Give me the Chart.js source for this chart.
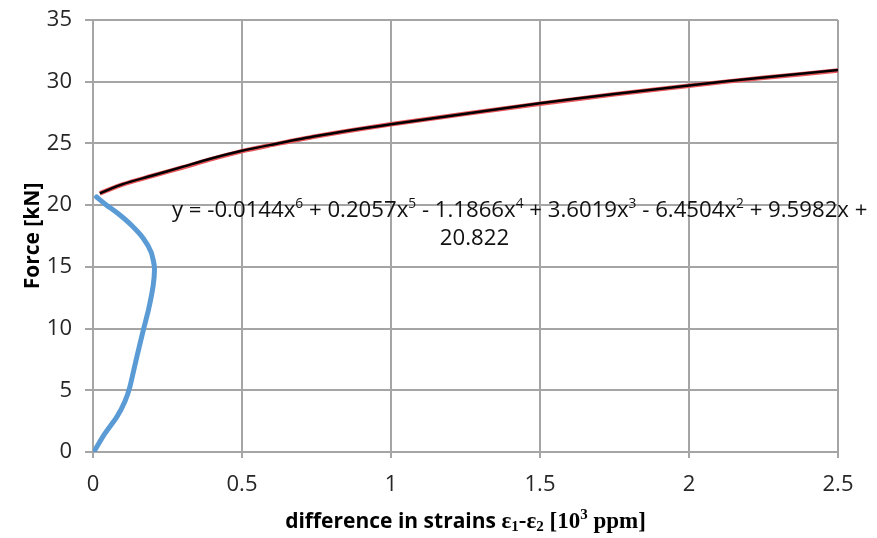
<!DOCTYPE html>
<html>
<head>
<meta charset="utf-8">
<script src="https://cdn.jsdelivr.net/npm/chart.js@4.4.0/dist/chart.umd.min.js"></script>
<style>
  body { margin: 0; background: #fff; }
  canvas { display: block; }
</style>
</head>
<body>
<canvas id="strainChart" width="877" height="538"></canvas>
<script>
// Données
const blueX = [0.005, 0.040, 0.080, 0.107, 0.124, 0.147, 0.169, 0.186, 0.202, 0.206, 0.195, 0.169, 0.130, 0.085, 0.040, 0.012];
const blueY = [0.1, 1.5, 2.85, 4.1, 5.3, 7.7, 9.9, 11.5, 13.5, 15.0, 16.2, 17.3, 18.35, 19.3, 20.1, 20.66];

const blackX = [0.023, 0.1, 0.2, 0.3, 0.4, 0.5, 0.6, 0.75, 1.0, 1.25, 1.5, 1.75, 2.0, 2.25, 2.5];
const blackY = [20.96, 21.7, 22.4, 23.1, 23.8, 24.4, 24.9, 25.6, 26.55, 27.4, 28.25, 29.0, 29.7, 30.35, 30.95];

const trendX = [0.023, 0.1, 0.2, 0.3, 0.4, 0.5, 0.6, 0.75, 1.0, 1.25, 1.5, 1.75, 2.0, 2.25, 2.5];
const trendY = [20.96, 21.68, 22.38, 23.05, 23.75, 24.38, 24.88, 25.58, 26.55, 27.4, 28.22, 28.98, 29.68, 30.32, 30.9];

const xTicks = [0, 0.5, 1, 1.5, 2, 2.5];
const yTicks = [0, 5, 10, 15, 20, 25, 30, 35];

const eqLine1 = [['y = -0.0144x', ''], ['6', 'sup'], [' + 0.2057x', ''], ['5', 'sup'], [' - 1.1866x', ''], ['4', 'sup'],
                 [' + 3.6019x', ''], ['3', 'sup'], [' - 6.4504x', ''], ['2', 'sup'], [' + 9.5982x +', '']];
const eqLine2 = '20.822';

function pts(xs, ys) {
  return xs.map((x, i) => ({ x: x, y: ys[i] }));
}

// Texte de l'équation de la courbe de tendance
const equationPlugin = {
  id: 'equation',
  afterDatasetsDraw(chart) {
    const ctx = chart.ctx;
    const sx = chart.scales.x, sy = chart.scales.y;
    const base = 22.2;
    ctx.save();
    ctx.fillStyle = '#111';
    ctx.textBaseline = 'middle';
    ctx.textAlign = 'left';
    let x = sx.getPixelForValue(0.265);
    const y1 = sy.getPixelForValue(19.55);
    eqLine1.forEach(([t, kind]) => {
      if (kind === 'sup') {
        ctx.font = (base * 0.62) + 'px "Open Sans"';
        ctx.fillText(t, x, y1 - base * 0.3);
      } else {
        ctx.font = base + 'px "Open Sans"';
        ctx.fillText(t, x, y1);
      }
      x += ctx.measureText(t).width;
    });
    ctx.font = base + 'px "Open Sans"';
    ctx.textAlign = 'center';
    ctx.fillText(eqLine2, sx.getPixelForValue(1.28), sy.getPixelForValue(17.3));
    ctx.restore();
  }
};

// Titre de l'axe x avec polices mélangées
const xTitlePlugin = {
  id: 'xTitle',
  afterDraw(chart) {
    const ctx = chart.ctx;
    const area = chart.chartArea;
    const sans = 'bold 21px "Open Sans"';
    const serif = 'bold 23px "Liberation Serif"';
    const small = 'bold 15px "Liberation Serif"';
    const parts = [
      ['difference in strains ', sans, 0],
      ['\u03b5', serif, 0], ['1', small, 5], ['-\u03b5', serif, 0], ['2', small, 5],
      [' [10', serif, 0], ['3', small, -7], [' ppm]', serif, 0]
    ];
    ctx.save();
    let total = 0;
    parts.forEach(p => { ctx.font = p[1]; total += ctx.measureText(p[0]).width; });
    let x = (area.left + area.right) / 2 - total / 2;
    const y = 522;
    ctx.fillStyle = '#000';
    ctx.textBaseline = 'middle';
    parts.forEach(p => {
      ctx.font = p[1];
      ctx.fillText(p[0], x, y + p[2]);
      x += ctx.measureText(p[0]).width;
    });
    ctx.restore();
  }
};

const ctx = document.getElementById('strainChart').getContext('2d');
const strainChart = new Chart(ctx, {
  type: 'scatter',
  data: {
    datasets: [{
      label: 'mesure',
      data: pts(blackX, blackY),
      showLine: true,
      borderColor: '#000000',
      borderWidth: 2.5,
      pointRadius: 0,
      tension: 0.3,
      order: 0
    }, {
      label: 'tendance',
      data: pts(trendX, trendY),
      showLine: true,
      borderColor: '#E8555A',
      borderWidth: 4.5,
      pointRadius: 0,
      tension: 0.3,
      order: 1
    }, {
      label: 'chargement',
      data: pts(blueX, blueY),
      showLine: true,
      borderColor: '#5B9BD5',
      borderWidth: 5,
      pointRadius: 0,
      tension: 0.18,
      borderCapStyle: 'round',
      borderJoinStyle: 'round',
      order: 2
    }]
  },
  options: {
    responsive: false,
    animation: false,
    layout: { padding: { top: 20, right: 39, left: 20, bottom: 0 } },
    plugins: {
      legend: { display: false },
      tooltip: { enabled: false }
    },
    scales: {
      x: {
        type: 'linear',
        min: 0,
        max: 2.5,
        afterBuildTicks: s => { s.ticks = xTicks.map(v => ({ value: v })); },
        afterFit: s => { s.height = 86; s.paddingLeft = 0; s.paddingRight = 0; },
        grid: { color: '#A5A5A5', lineWidth: 2, tickLength: 6 },
        border: { color: '#A5A5A5', width: 2 },
        ticks: {
          color: '#262626',
          font: { family: 'Open Sans', size: 22 },
          padding: 14,
          callback: v => String(v)
        },
        title: { display: false }
      },
      y: {
        min: 0,
        max: 35,
        afterBuildTicks: s => { s.ticks = yTicks.map(v => ({ value: v })); },
        afterFit: s => { s.width = 73; s.paddingTop = 0; s.paddingBottom = 0; },
        grid: { color: '#A5A5A5', lineWidth: 2, tickLength: 8 },
        border: { color: '#A5A5A5', width: 2 },
        ticks: { color: '#262626', font: { family: 'Open Sans', size: 22 }, padding: 13 },
        title: {
          display: true,
          text: 'Force [kN]',
          color: '#000',
          font: { family: 'Open Sans', size: 21, weight: 'bold' },
          padding: { top: 0, bottom: 0 }
        }
      }
    }
  },
  plugins: [equationPlugin, xTitlePlugin]
});
</script>
</body>
</html>
